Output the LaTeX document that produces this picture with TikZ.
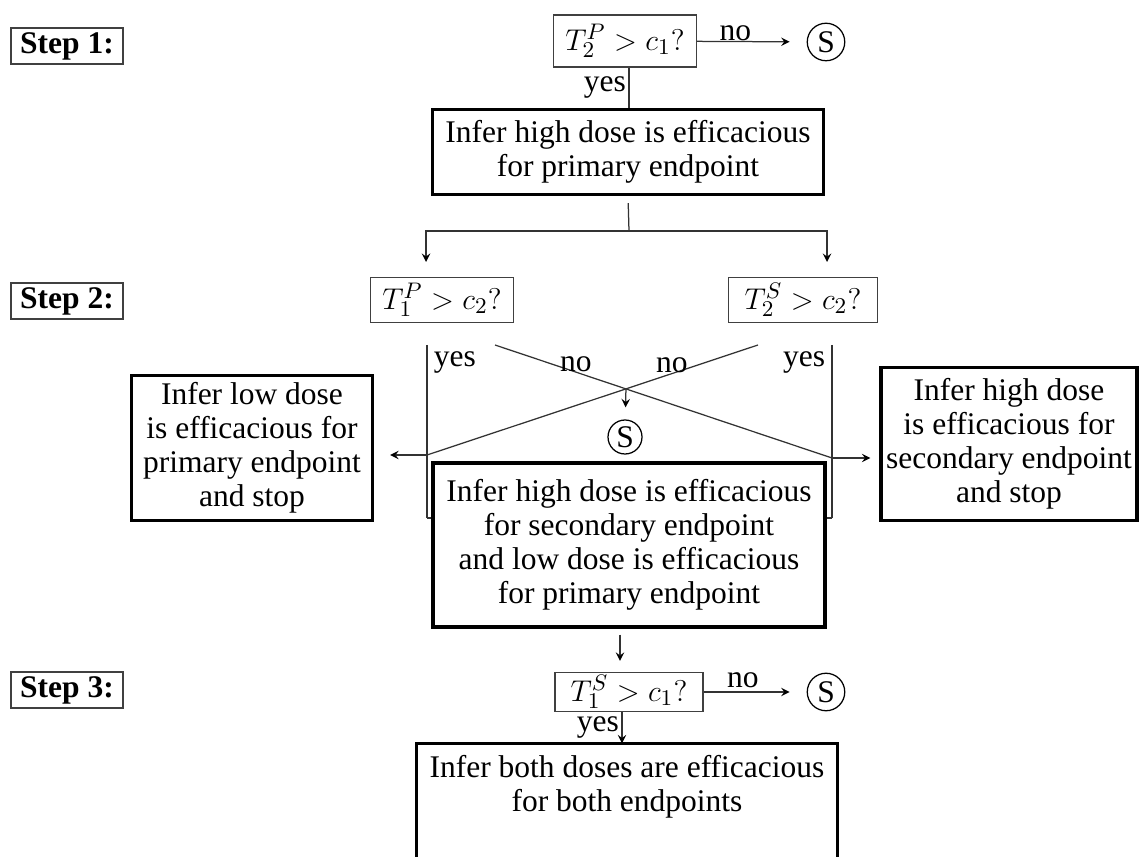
\documentclass[tikz,border=0pt]{standalone}
\usepackage{fontspec}
\setmainfont{Liberation Serif}

\begin{document}
\begin{tikzpicture}[x=0.4pt,y=-0.4pt,>=stealth,font=\fontsize{12.6}{13.6}\selectfont,
        step node/.style={draw=black!75,line width=0.5pt,font=\fontsize{12.6}{13.6}\selectfont\bfseries,minimum width=44.8pt,minimum height=14.4pt,inner sep=0pt},
        test node/.style={draw=black!75,line width=0.5pt,inner sep=0pt},
        main node/.style={draw,line width=1.3pt,align=center,inner sep=0pt},
        stop node/.style={circle,draw,line width=0.5pt,minimum size=15pt,inner sep=0pt},
        link/.style={draw=black!80,line width=0.5pt}]
                        \useasboundingbox (0,0) rectangle (1139,857);

                        \node[step node] (1) at (67,46) {Step 1:};
                        \node[step node] (2) at (67,301) {Step 2:};
                        \node[step node] (3) at (67,690) {Step 3:};

                        \node[test node,minimum width=57.2pt,minimum height=20.8pt] (4) at (625,41) {$T_2^P>c_1?$};
                        \node[stop node] (5) at (826,42) {S};
                        \node[main node,minimum width=156.4pt,minimum height=34pt] (6) at (628,152) {Infer high dose is efficacious\\for primary endpoint};

                        \node[test node,minimum width=57.2pt,minimum height=18pt] (7) at (442,300) {$T_1^P>c_2?$};
                        \node[test node,minimum width=59.6pt,minimum height=18pt] (8) at (803,300) {$T_2^S>c_2?$};

                        \node[main node,minimum width=96.4pt,minimum height=58pt] (9) at (252,448) {Infer low dose\\is efficacious for\\primary endpoint\\and stop};
                        \node[main node,minimum width=102.4pt,minimum height=61.2pt] (10) at (1009,444) {Infer high dose\\is efficacious for\\secondary endpoint\\and stop};
                        \node[stop node,minimum size=13.6pt] (11) at (625,437) {S};
                        \node[main node,minimum width=156.8pt,minimum height=65.6pt] (12) at (629,545) {Infer high dose is efficacious\\for secondary endpoint\\and low dose is efficacious\\for primary endpoint};

                        \node[test node,minimum width=59.2pt,minimum height=15.6pt] (13) at (629,692) {$T_1^S>c_1?$};
                        \node[stop node] (14) at (826,692) {S};
                        \node[main node,draw=none,minimum width=167.2pt,minimum height=33.6pt] (15) at (627,787) {Infer both doses are efficacious\\for both endpoints};
                        \draw[line width=1.3pt] ([yshift=-12pt]15.south west) -- (15.north west) -- (15.north east) -- ([yshift=-12pt]15.south east);

                        \coordinate (16) at (629,231);
                        \coordinate (17) at (426,262);
                        \coordinate (18) at (827,262);
                        \coordinate (19) at (427,345);
                        \coordinate (20) at (427,455);
                        \coordinate (21) at (427,518);
                        \coordinate (22) at (832,345);
                        \coordinate (23) at (832,458);
                        \coordinate (24) at (832,518);
                        \coordinate (25) at (495,345);
                        \coordinate (26) at (758,345);
                        \coordinate (27) at (intersection of 25--23 and 26--20);

                        \path[link]
                                (4) edge[->,shorten >=6.8pt] node[pos=0.35,above,inner sep=0pt] {no} (5)
                                (6.north -| 16) edge node[left,inner sep=1pt] {yes} (4.south -| 16)
                                (6.south) edge[shorten <=2.8pt] (16)
                                (16) edge[->,to path={-| (\tikztotarget)}] (17)
                                (16) edge[->,to path={-| (\tikztotarget)}] (18)

                                (19) edge node[pos=0,anchor=north west,inner sep=2.5pt] {yes} (21)
                                (21) edge (21 -| 12.west)
                                (20) edge[->,shorten >=6.4pt] (20 -| 9.east)
                                (22) edge node[pos=0,anchor=north east,inner sep=2.5pt] {yes} (24)
                                (24) edge (24 -| 12.east)
                                (23) edge[->,shorten >=3.6pt] (23 -| 10.west)
                                (25) edge node[pos=0.24,above,inner sep=0pt] {no} (23)
                                (26) edge node[pos=0.26,above,inner sep=0pt] {no} (20)
                                (27) edge[->,shorten >=4.8pt] (11)

                                ([xshift=-3.6pt]12.south) edge[->,shorten <=2.4pt,shorten >=4.4pt] ([xshift=-3.6pt]12.south |- 13.north)
                                (13) edge[->,shorten >=6.8pt] node[pos=0.38,above,inner sep=1.5pt] {no} (14)
                                ([xshift=-2.8pt]13.south) edge[->] node[left,inner sep=1pt] {yes} ([xshift=-2.8pt]13.south |- 15.north)
                            ;
                    \end{tikzpicture}
\end{document}
